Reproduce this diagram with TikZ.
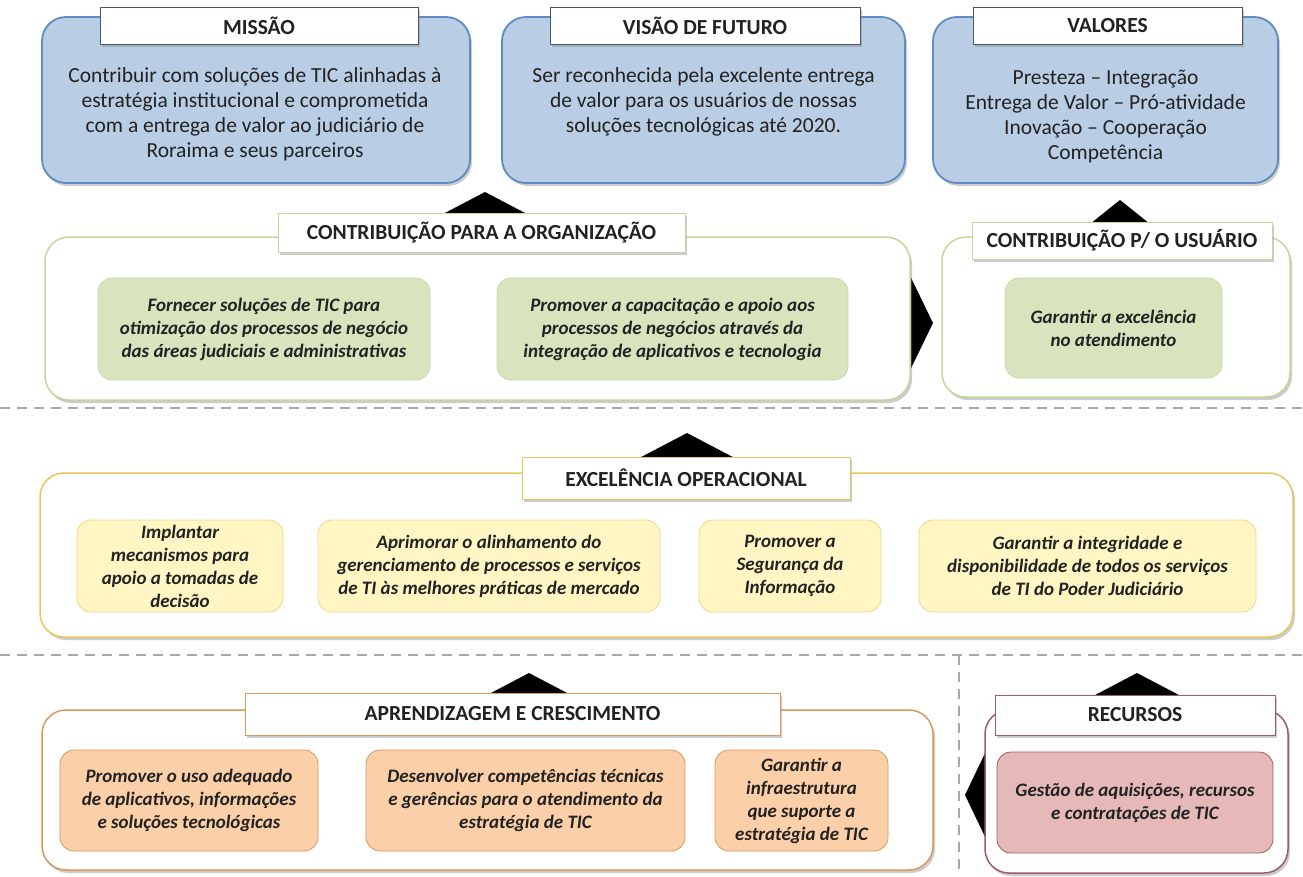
\documentclass[tikz,border=0pt]{standalone}
\usepackage{fontspec}
\setmainfont{Carlito}
\usetikzlibrary{shadows}
\definecolor{txtCol}{HTML}{222222}
\definecolor{blueFill}{HTML}{B9CDE5}
\definecolor{blueDraw}{HTML}{5E8BC2}
\definecolor{blueTtl}{HTML}{4A5868}
\definecolor{oliveDraw}{HTML}{C3D69B}
\definecolor{greenFill}{HTML}{D7E4BD}
\definecolor{greenDraw}{HTML}{C9D8AE}
\definecolor{goldDraw}{HTML}{E6C75C}
\definecolor{yelFill}{HTML}{FFF6C4}
\definecolor{yelDraw}{HTML}{EDD88A}
\definecolor{orDraw}{HTML}{D9975C}
\definecolor{orFill}{HTML}{FBCFA8}
\definecolor{marDraw}{HTML}{9E5C66}
\definecolor{pinkFill}{HTML}{E6B9B9}
\definecolor{dashCol}{HTML}{A8A8A8}
\newcommand\myBody{\fontsize{21.5}{25}\selectfont}
\newcommand\myTitle{\fontsize{21.5}{24}\selectfont\bfseries}
\newcommand\myObj{\fontsize{19}{23}\selectfont\bfseries\itshape}
\begin{document}
\begin{tikzpicture}[x=1pt,y=-1pt,
  shad/.style={drop shadow={opacity=0.4,shadow xshift=2pt,shadow yshift=-3pt}},
  box/.style={rectangle,rounded corners=24pt,shad,inner sep=0pt},
  bluebox/.style={box,fill=blueFill,draw=blueDraw,line width=1.8pt},
  olivebox/.style={box,fill=white,draw=oliveDraw,line width=1.5pt},
  goldbox/.style={box,fill=white,draw=goldDraw,line width=1.5pt},
  orbox/.style={box,fill=white,draw=orDraw,line width=1.5pt},
  marbox/.style={box,fill=white,draw=marDraw,line width=1.5pt},
  obj/.style={rectangle,rounded corners=14pt,align=center,text=txtCol,font=\myObj,inner sep=0pt,line width=0.8pt},
  greenobj/.style={obj,fill=greenFill,draw=greenDraw},
  yelobj/.style={obj,fill=yelFill,draw=yelDraw},
  orobj/.style={obj,fill=orFill,draw=orDraw},
  pinkobj/.style={obj,fill=pinkFill,draw=marDraw},
  ttl/.style={rectangle,fill=white,line width=1pt,text=txtCol,font=\myTitle,inner sep=0pt,shad},
  body/.style={align=center,text=txtCol,font=\myBody,inner sep=0pt},
  sep/.style={draw=dashCol,line width=1.6pt,dash pattern=on 10pt off 7pt},
  arrowtri/.style={fill=black}
]
\useasboundingbox (0,0) rectangle (1303,876);
\fill[white] (0,0) rectangle (1303,876);

% separators
\coordinate (s1l) at (0,408); \coordinate (s1r) at (1303,408);
\coordinate (s2l) at (0,655); \coordinate (s2r) at (1303,655);
\coordinate (vt) at (959,655); \coordinate (vb) at (959,876);
\draw[sep] (s1l) -- (s1r);
\draw[sep] (s2l) -- (s2r);
\draw[sep] (vt) -- (vb);

% arrow triangles (behind boxes)
\fill[arrowtri] (485,192) -- (548,225) -- (422,225) -- cycle;
\fill[arrowtri] (1120,200) -- (1160,232) -- (1080,232) -- cycle;
\fill[arrowtri] (933,323) -- (898,251) -- (898,395) -- cycle;
\fill[arrowtri] (687,433) -- (750,466) -- (624,466) -- cycle;
\fill[arrowtri] (529,673) -- (590,705) -- (468,705) -- cycle;
\fill[arrowtri] (1137,673) -- (1198,705) -- (1076,705) -- cycle;
\fill[arrowtri] (965,795) -- (998,726) -- (998,864) -- cycle;

% top row
\node[bluebox,minimum width=428pt,minimum height=166pt] (missao) at (256,100) {};
\node[bluebox,minimum width=403pt,minimum height=166pt] (visao) at (703.5,100) {};
\node[bluebox,minimum width=345pt,minimum height=166pt] (valores) at (1105.5,100) {};
\node[ttl,draw=blueTtl,minimum width=318pt,minimum height=37pt] (missaoT) at (259,25.5) {MISSÃO};
\node[ttl,draw=blueTtl,minimum width=310pt,minimum height=37pt] (visaoT) at (705,25.5) {VISÃO DE FUTURO};
\node[ttl,draw=blueTtl,minimum width=269pt,minimum height=37pt] (valoresT) at (1107.5,25.5) {VALORES};
\node[body] (missaoB) at (255,114.5) {Contribuir com soluções de TIC alinhadas à\\estratégia institucional e comprometida\\com a entrega de valor ao judiciário de\\Roraima e seus parceiros};
\node[body] (visaoB) at (703.5,101.5) {Ser reconhecida pela excelente entrega\\de valor para os usuários de nossas\\soluções tecnológicas até 2020.};
\node[body] (valoresB) at (1105.5,116.5) {Presteza – Integração\\Entrega de Valor – Pró-atividade\\Inovação – Cooperação\\Competência};

% contribution row
\node[olivebox,minimum width=865pt,minimum height=163pt] (org) at (477.5,318.5) {};
\node[olivebox,minimum width=348pt,minimum height=160pt] (usu) at (1116,317) {};
\node[greenobj,minimum width=332pt,minimum height=102pt] (g1) at (264,329) {Fornecer soluções de TIC para\\otimização dos processos de negócio\\das áreas judiciais e administrativas};
\node[greenobj,minimum width=351pt,minimum height=102pt] (g2) at (672.5,329) {Promover a capacitação e apoio aos\\processos de negócios através da\\integração de aplicativos e tecnologia};
\node[greenobj,minimum width=217pt,minimum height=100pt] (g3) at (1113.5,328) {Garantir a excelência\\no atendimento};
\node[ttl,draw=oliveDraw,minimum width=407pt,minimum height=39pt] (orgT) at (481.5,232.5) {CONTRIBUIÇÃO PARA A ORGANIZAÇÃO};
\node[ttl,draw=oliveDraw,minimum width=300pt,minimum height=37pt] (usuT) at (1122,240.5) {CONTRIBUIÇÃO P/ O USUÁRIO};

% operational excellence
\node[goldbox,minimum width=1253pt,minimum height=164pt] (exc) at (666.5,555) {};
\node[yelobj,minimum width=206pt,minimum height=92pt] (y1) at (180,566) {Implantar\\mecanismos para\\apoio a tomadas de\\decisão};
\node[yelobj,minimum width=342pt,minimum height=92pt] (y2) at (489,566) {Aprimorar o alinhamento do\\gerenciamento de processos e serviços\\de TI às melhores práticas de mercado};
\node[yelobj,minimum width=182pt,minimum height=92pt] (y3) at (790,566) {Promover a\\Segurança da\\Informação};
\node[yelobj,minimum width=337pt,minimum height=92pt] (y4) at (1087.5,566) {Garantir a integridade e\\disponibilidade de todos os serviços\\de TI do Poder Judiciário};
\node[ttl,draw=goldDraw,minimum width=328pt,minimum height=42pt] (excT) at (686,478) {EXCELÊNCIA OPERACIONAL};

% learning and resources
\node[orbox,minimum width=891pt,minimum height=160pt] (apr) at (487.5,790) {};
\node[marbox,minimum width=303pt,minimum height=163pt] (rec) at (1136.5,791.5) {};
\node[orobj,minimum width=258pt,minimum height=101pt] (o1) at (189,800.5) {Promover o uso adequado\\de aplicativos, informações\\e soluções tecnológicas};
\node[orobj,minimum width=319pt,minimum height=101pt] (o2) at (525.5,800.5) {Desenvolver competências técnicas\\e gerências para o atendimento da\\estratégia de TIC};
\node[orobj,minimum width=173pt,minimum height=101pt] (o3) at (801.5,800.5) {Garantir a\\infraestrutura\\que suporte a\\estratégia de TIC};
\node[pinkobj,minimum width=276pt,minimum height=101pt] (p1) at (1135,802.5) {Gestão de aquisições, recursos\\e contratações de TIC};
\node[ttl,draw=orDraw,minimum width=535pt,minimum height=42pt] (aprT) at (512.5,714) {APRENDIZAGEM E CRESCIMENTO};
\node[ttl,draw=marDraw,minimum width=280pt,minimum height=40pt] (recT) at (1135,715) {RECURSOS};
\end{tikzpicture}
\end{document}
